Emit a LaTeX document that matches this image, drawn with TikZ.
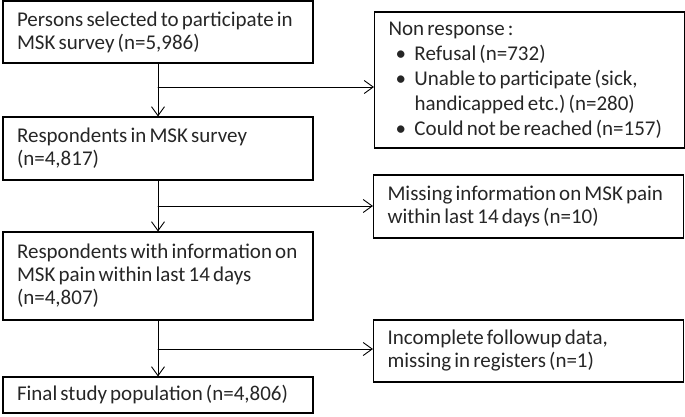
\documentclass[tikz,border=0pt]{standalone}
\usepackage{fontspec}
\setmainfont{Carlito}
\usetikzlibrary{arrows.meta}

\begin{document}
\begin{tikzpicture}
			[x=1pt,y=-1pt,line cap=round,
			%Styles
			flow box/.style={draw,line width=1.1pt,inner xsep=14pt,inner ysep=0pt,
				text width=282pt,align=left,text=black!85,
				font=\fontsize{21}{23}\selectfont,
				execute at begin node={\frenchspacing\spaceskip=0.15em plus 0.05em\relax}},
			flow line/.style={line width=0.9pt},
			flow arrow/.style={flow line,-{Straight Barb[length=9pt,width=13pt]}}
			]
			
			\useasboundingbox (0,0) rectangle (685,416);
			
			%The graphic
			\node[flow box,minimum height=62pt] (sel) at (158,32) {Persons selected to participate in\\MSK survey (n=5,986)};
			\node[flow box,minimum height=63pt] (resp) at (158,148.5) {Respondents in MSK survey\\(n=4,817)};
			\node[flow box,minimum height=88pt] (info) at (158,276) {Respondents with information on\\MSK pain within last 14 days\\(n=4,807)};
			\node[flow box,minimum height=36pt] (final) at (158,395) {Final study population (n=4,806)};
			
			\node[flow box,minimum height=136pt,font=\fontsize{21}{25}\selectfont] (nonresp) at (529.5,80) {Non response :\\
				\hspace*{7pt}\makebox[19pt][l]{\textbullet}Refusal (n=732)\\
				\hspace*{7pt}\makebox[19pt][l]{\textbullet}Unable to participate (sick,\\
				\hspace*{26pt}handicapped etc.) (n=280)\\
				\hspace*{7pt}\makebox[19pt][l]{\textbullet}Could not be reached (n=157)};
			\node[flow box,minimum height=63pt] (miss) at (528.5,206.5) {Missing information on MSK pain\\within last 14 days (n=10)};
			\node[flow box,minimum height=62pt] (incomp) at (528.5,351) {Incomplete followup data,\\missing in registers (n=1)};
			
			\coordinate (b1) at (sel.south |- 0,87);
			\coordinate (b2) at (resp.south |- 0,206);
			\coordinate (b3) at (info.south |- 0,349);
			
			\draw[flow arrow] (sel.south) -- (resp.north);
			\draw[flow arrow] (resp.south) -- (info.north);
			\draw[flow arrow] (info.south) -- (final.north);
			\draw[flow arrow] (b1) -- (b1 -| nonresp.west);
			\draw[flow arrow] (b2) -- (b2 -| miss.west);
			\draw[flow arrow] (b3) -- (b3 -| incomp.west);
		\end{tikzpicture}
\end{document}
